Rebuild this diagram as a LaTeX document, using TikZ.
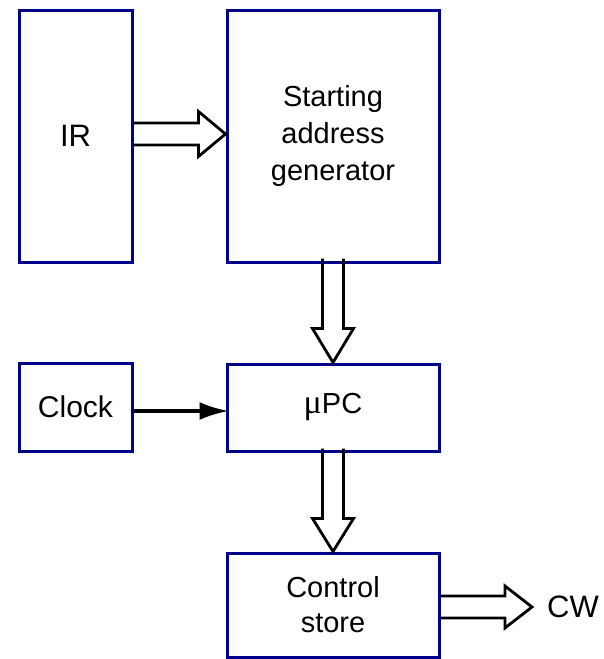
\documentclass[tikz,border=0pt]{standalone}
\usepackage{fontspec}
\setmainfont{Liberation Sans}
\newfontfamily\greekfont{Liberation Serif}
\usetikzlibrary{calc,arrows.meta}
\definecolor{boxblue}{RGB}{0,0,140}
\tikzset{
  blk/.style={draw=boxblue, line width=3pt, inner sep=0pt, align=center},
  hollow/.style={draw=black, line width=2.8pt, line join=miter},
  thinarr/.style={draw=black, line width=3.2pt, -{Latex[length=29pt,width=18pt]}, shorten >=-3pt}
}
\begin{document}
\begin{tikzpicture}[x=1pt,y=-1pt]
\useasboundingbox (0,0) rectangle (603,659);
\node[blk, minimum width=113pt, minimum height=252pt, font=\fontsize{31}{37}\selectfont] (IR) at (75.5,136) {IR};
\node[blk, minimum width=212pt, minimum height=252pt, font=\fontsize{29}{37}\selectfont] (SAG) at (333,136) {Starting\\address\\generator};
\node[blk, minimum width=113pt, minimum height=88pt, font=\fontsize{30}{36}\selectfont] (CLK) at (75.5,407) {Clock};
\node[blk, minimum width=212pt, minimum height=87pt, font=\fontsize{29}{36}\selectfont] (UPC) at (333,407.5) {{\greekfont\fontsize{34}{36}\selectfont μ}PC};
\node[blk, minimum width=212pt, minimum height=104pt, font=\fontsize{29}{35}\selectfont] (CS) at (333,605) {Control\\store};
\node[font=\fontsize{31}{36}\selectfont, inner sep=0pt] (CW) at (573,607) {CW};
% IR -> SAG hollow arrow
\draw[hollow] let \p1=(IR.east), \p2=(SAG.west) in
  (\x1,\y1+2+11) -- (\x2-27,\y1+2+11) -- (\x2-27,\y1+2+22.5) -- (\x2,\y1+2)
  -- (\x2-27,\y1+2-22.5) -- (\x2-27,\y1+2-11) -- (\x1,\y1+2-11);
% SAG -> uPC hollow arrow
\draw[hollow] let \p1=(SAG.south), \p2=(UPC.north) in
  (\x1-10.5,\y1+5) -- (\x1-10.5,\y2+34) -- (\x1-20.5,\y2+34) -- (\x2,\y2)
  -- (\x1+20.5,\y2+34) -- (\x1+10.5,\y2+34) -- (\x1+10.5,\y1+5);
% uPC -> CS hollow arrow
\draw[hollow] let \p1=(UPC.south), \p2=(CS.north) in
  (\x1-10.5,\y1+4) -- (\x1-10.5,\y2+33) -- (\x1-20.5,\y2+33) -- (\x2,\y2)
  -- (\x1+20.5,\y2+33) -- (\x1+10.5,\y2+33) -- (\x1+10.5,\y1+4);
% CS -> CW hollow arrow
\coordinate (cwtip) at ($(CW.west)+(-15,0)$);
\draw[hollow] let \p1=(CS.east), \p2=(cwtip) in
  (\x1,\y2+11) -- (\x2-27,\y2+11) -- (\x2-27,\y2+21) -- (\x2,\y2)
  -- (\x2-27,\y2-21) -- (\x2-27,\y2-11) -- (\x1,\y2-11);
% Clock -> uPC
\coordinate (ck) at ([yshift=-4pt]CLK.east);
\draw[thinarr] (ck) -- (ck -| UPC.west);
\end{tikzpicture}
\end{document}
